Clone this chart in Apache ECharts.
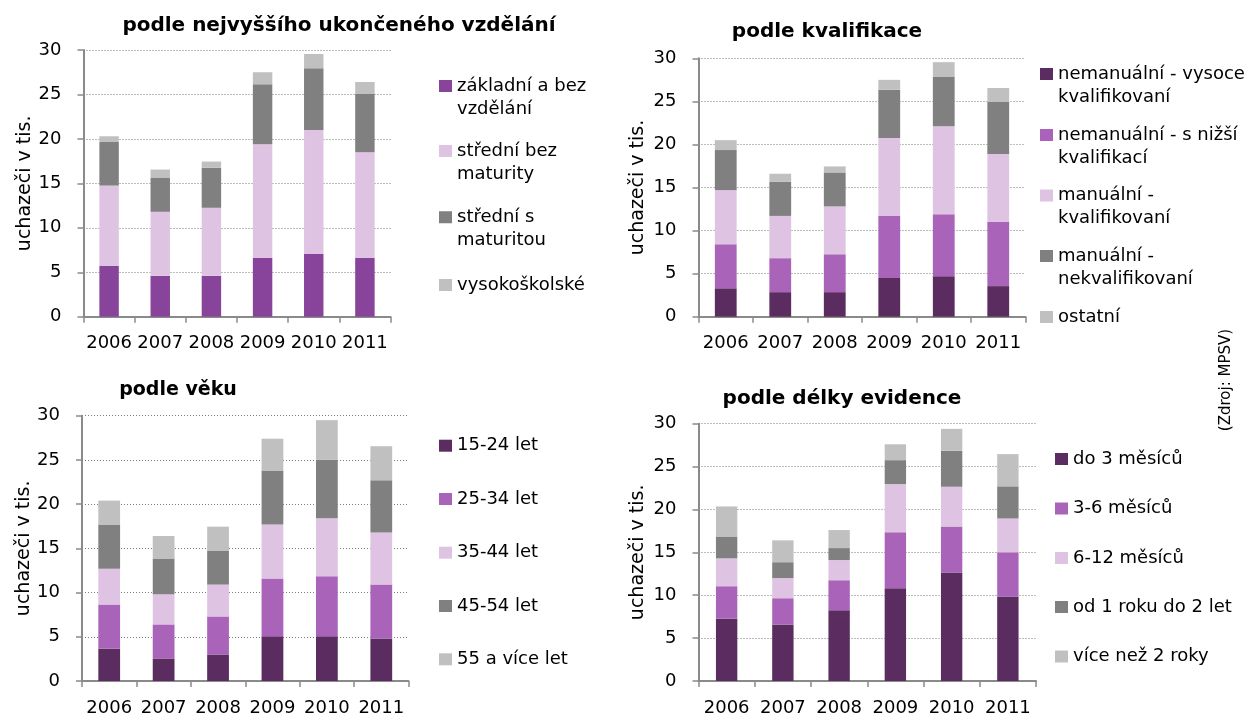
<!DOCTYPE html>
<html>
<head>
<meta charset="utf-8">
<script src="https://cdn.jsdelivr.net/npm/echarts@6/dist/echarts.min.js"></script>
<style>
html,body{margin:0;padding:0;background:#fff;}
#c{width:1253px;height:713px;}
</style>
</head>
<body>
<div id="c"></div>
<script>
// ---------- data ----------
const years = ['2006', '2007', '2008', '2009', '2010', '2011'];

// chart 1: podle nejvyššího ukončeného vzdělání
const eduNames = ['základní a bez\nvzdělání', 'střední bez\nmaturity', 'střední s\nmaturitou', 'vysokoškolské'];
const eduZakladni = [5.7, 4.6, 4.6, 6.6, 7.05, 6.6];
const eduStredniBez = [9.05, 7.2, 7.65, 12.8, 13.95, 11.9];
const eduStredniS = [4.9, 3.8, 4.5, 6.75, 6.95, 6.55];
const eduVysokoskolske = [0.65, 0.95, 0.7, 1.35, 1.6, 1.35];

// chart 2: podle kvalifikace
const kvalNames = ['nemanuální - vysoce\nkvalifikovaní', 'nemanuální - s nižší\nkvalifikací', 'manuální -\nkvalifikovaní', 'manuální -\nnekvalifikovaní', 'ostatní'];
const kvalNemVysoce = [3.3, 2.85, 2.85, 4.5, 4.7, 3.55];
const kvalNemNizsi = [5.1, 3.95, 4.4, 7.2, 7.2, 7.45];
const kvalManKval = [6.3, 4.9, 5.55, 9.05, 10.2, 7.9];
const kvalManNekval = [4.65, 3.95, 3.95, 5.6, 5.8, 6.05];
const kvalOstatni = [1.15, 0.95, 0.7, 1.15, 1.65, 1.6];

// chart 3: podle věku
const vekNames = ['15-24 let', '25-34 let', '35-44 let', '45-54 let', '55 a více let'];
const vek1524 = [3.65, 2.55, 3.0, 5.05, 5.05, 4.8];
const vek2534 = [5.0, 3.85, 4.3, 6.55, 6.8, 6.1];
const vek3544 = [4.05, 3.4, 3.6, 6.1, 6.55, 5.9];
const vek4554 = [5.0, 4.05, 3.8, 6.1, 6.6, 5.9];
const vek55 = [2.7, 2.55, 2.75, 3.6, 4.5, 3.85];

// chart 4: podle délky evidence
const evNames = ['do 3 měsíců', '3-6 měsíců', '6-12 měsíců', 'od 1 roku do 2 let', 'více než 2 roky'];
const evDo3 = [7.3, 6.6, 8.25, 10.8, 12.65, 9.85];
const ev3az6 = [3.75, 3.05, 3.5, 6.55, 5.35, 5.15];
const ev6az12 = [3.25, 2.35, 2.35, 5.6, 4.65, 3.95];
const ev1az2roky = [2.55, 1.85, 1.4, 2.8, 4.2, 3.75];
const evNad2roky = [3.5, 2.55, 2.1, 1.85, 2.55, 3.75];

const titles = ['podle nejvyššího ukončeného vzdělání', 'podle kvalifikace', 'podle věku', 'podle délky evidence'];
const yAxisName = 'uchazeči v tis.';
const sourceText = '(Zdroj: MPSV)';

// ---------- styling / layout ----------
const FONT = 'DejaVu Sans';
const C_PURPLE1 = '#88439a';
const C_DARK = '#5b2c60';
const C_MID = '#a964ba';
const C_LIGHT = '#dfc3e3';
const C_DGRAY = '#808080';
const C_LGRAY = '#c0c0c0';
const AXIS_C = '#8a8a8a';

const charts = [
  { names: eduNames, data: [eduZakladni, eduStredniBez, eduStredniS, eduVysokoskolske],
    colors: [C_PURPLE1, C_LIGHT, C_DGRAY, C_LGRAY],
    grid: {left: 83.5, top: 50, width: 307, height: 266.7}, barWidth: '38%', nameGap: 49,
    title: {x: 339, y: 26, size: 20},
    legend: {x: 439, lh: 23.3, centers: [86, 151, 217.3, 285]} },
  { names: kvalNames, data: [kvalNemVysoce, kvalNemNizsi, kvalManKval, kvalManNekval, kvalOstatni],
    colors: [C_DARK, C_MID, C_LIGHT, C_DGRAY, C_LGRAY],
    grid: {left: 698.5, top: 58.3, width: 327, height: 258.4}, barWidth: '40%', nameGap: 51,
    title: {x: 827, y: 32, size: 20},
    legend: {x: 1040, lh: 23.3, centers: [74, 135, 195.5, 256, 317]} },
  { names: vekNames, data: [vek1524, vek2534, vek3544, vek4554, vek55],
    colors: [C_DARK, C_MID, C_LIGHT, C_DGRAY, C_LGRAY],
    grid: {left: 82, top: 415.7, width: 326.5, height: 265.3}, barWidth: '40%', nameGap: 47.5,
    title: {x: 178, y: 390, size: 19},
    legend: {x: 439, lh: 23, centers: [445.7, 499, 552.7, 606, 659.3]} },
  { names: evNames, data: [evDo3, ev3az6, ev6az12, ev1az2roky, evNad2roky],
    colors: [C_DARK, C_MID, C_LIGHT, C_DGRAY, C_LGRAY],
    grid: {left: 698.5, top: 423.7, width: 337.5, height: 257.3}, barWidth: '38%', nameGap: 51,
    title: {x: 842, y: 399, size: 20},
    legend: {x: 1055, lh: 23, centers: [459, 508.5, 558, 607, 656.5]} }
];

const option = {
  animation: false,
  backgroundColor: '#ffffff',
  title: [], legend: [], grid: [], xAxis: [], yAxis: [], series: [],
  graphic: [{
    type: 'text', x: 1226, y: 380, rotation: Math.PI / 2,
    style: {text: sourceText, fontSize: 15, fontFamily: FONT, fill: '#000', align: 'center', verticalAlign: 'middle'}
  }]
};

const ICON_W = 13, ICON_H = 12;

charts.forEach((ch, gi) => {
  option.title.push({
    text: titles[gi], left: ch.title.x, top: ch.title.y, padding: 0,
    textAlign: 'center', textVerticalAlign: 'middle',
    textStyle: {fontFamily: FONT, fontSize: ch.title.size, fontWeight: 'bold', color: '#000'}
  });
  option.grid.push(Object.assign({containLabel: false, outerBoundsMode: 'none'}, ch.grid));
  option.xAxis.push({
    type: 'category', gridIndex: gi, data: years, boundaryGap: true,
    axisLine: {show: true, lineStyle: {color: AXIS_C, width: 2}},
    axisTick: {show: true, alignWithLabel: false, length: 6, lineStyle: {color: AXIS_C, width: 1.5}},
    axisLabel: {fontFamily: FONT, fontSize: 18, color: '#000', margin: 18, interval: 0},
    splitLine: {show: false}
  });
  option.yAxis.push({
    type: 'value', gridIndex: gi, min: 0, max: 30, interval: 5,
    name: yAxisName, nameLocation: 'middle', nameRotate: 90, nameGap: ch.nameGap,
    nameTextStyle: {fontFamily: FONT, fontSize: 19, color: '#000'},
    axisLine: {show: true, lineStyle: {color: AXIS_C, width: 2}},
    axisTick: {show: true, length: 6, lineStyle: {color: AXIS_C, width: 1.5}},
    axisLabel: {fontFamily: FONT, fontSize: 18, color: '#000', margin: 22},
    splitLine: {show: true, lineStyle: {color: '#7a7a7a', width: 1, type: [1, 2]}}
  });
  ch.names.forEach((nm, si) => {
    option.series.push({
      type: 'bar', name: nm, stack: 'st' + gi, xAxisIndex: gi, yAxisIndex: gi,
      data: ch.data[si], barWidth: ch.barWidth,
      itemStyle: {color: ch.colors[si]}
    });
    const lh = ch.legend.lh;
    const twoLine = nm.indexOf('\n') >= 0;
    // for two-line names: icon box is taller (square at top, invisible speck at bottom)
    // so that the square sits beside the first line of text
    const boxH = twoLine ? ICON_H + lh : ICON_H;
    const icon = twoLine
      ? 'path://M0,0h' + ICON_W + 'v' + ICON_H + 'h-' + ICON_W + 'z M6,' + (boxH - 0.01) + 'h0.01v0.01h-0.01z'
      : 'rect';
    option.legend.push({
      data: [nm], orient: 'vertical', left: ch.legend.x,
      top: ch.legend.centers[si] - lh / 2,
      padding: 0, itemGap: 0, itemWidth: ICON_W, itemHeight: boxH, icon: icon,
      symbolKeepAspect: false,
      selectedMode: false,
      textStyle: {fontFamily: FONT, fontSize: 18, color: '#000', lineHeight: lh}
    });
  });
});

const chart = echarts.init(document.getElementById('c'), null, {renderer: 'canvas'});
chart.setOption(option);
</script>
</body>
</html>
